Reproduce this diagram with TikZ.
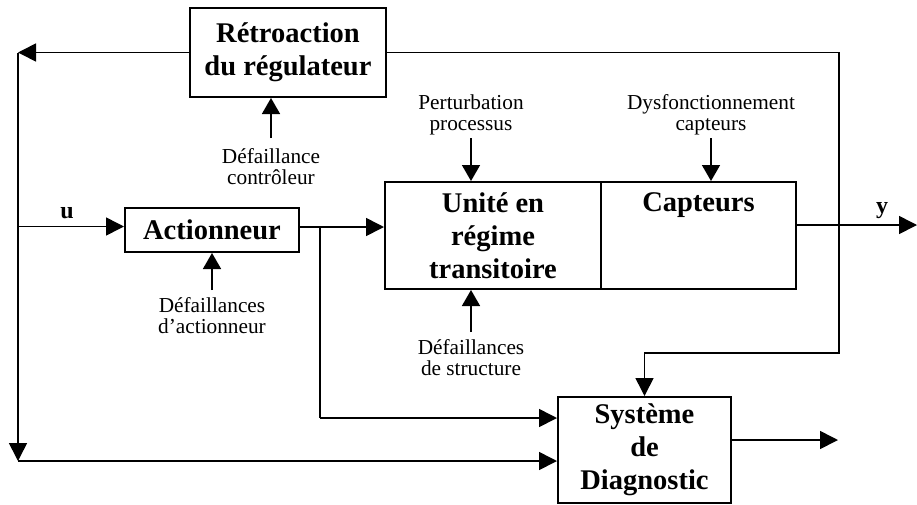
\documentclass[tikz,border=0pt]{standalone}
\usepackage{fontspec}
\setmainfont{Liberation Serif}
\usetikzlibrary{arrows.meta}

\begin{document}
\begin{tikzpicture}[x=1pt, y=-1pt]
    \useasboundingbox (0,0) rectangle (917,504);

    \begin{scope}[every node/.style={draw, line width=2pt, align=center, inner sep=0pt, font=\fontsize{28.5}{33}\selectfont\bfseries}]
        \node[minimum width=196pt, minimum height=89pt] (retro) at (288,52.5) {Rétroaction\\du régulateur};
        \node[minimum width=174pt, minimum height=44pt] (act) at (212,230) {Actionneur};
        \node[minimum width=216pt, minimum height=107pt] (unit) at (493,235.5) {Unité en\\régime\\transitoire};
        \node[minimum width=195pt, minimum height=107pt] (capt) at (698.5,235.5) {Capteurs\\~\\~};
        \node[minimum width=173pt, minimum height=106pt] (diag) at (644.5,450) {Système\\de\\Diagnostic};
    \end{scope}

    \begin{scope}[every node/.style={align=center, inner sep=3pt, font=\fontsize{21.3}{21}\selectfont}]
        \node[anchor=south] (pert) at (471,138) {Perturbation\\processus};
        \node[anchor=south] (dysf) at (711,138) {Dysfonctionnement\\capteurs};
        \node[anchor=north] (ctrl) at (271,145) {Défaillance\\contrôleur};
        \node[anchor=north] (actf) at (212,294) {Défaillances\\d’actionneur};
        \node[anchor=north] (strf) at (471,336) {Défaillances\\de structure};
    \end{scope}

    \begin{scope}[every node/.style={font=\fontsize{24}{24}\selectfont\bfseries}]
        \node (u) at (67,213) {u};
        \node (y) at (882,211) {y};
    \end{scope}

    % points de jonction
    \coordinate (tl) at (18,52.5);
    \coordinate (bl) at (18,461);
    \coordinate (ul) at (18,226.5);
    \coordinate (j1) at (320,227);
    \coordinate (j2) at (320,418);
    \coordinate (fr1) at (839,52.5);
    \coordinate (fr2) at (839,353);
    \coordinate (yout) at (917,225);
    \coordinate (dout) at (838,440);

    \begin{scope}[>={Triangle[length=18pt, width=18pt]}, line width=1.6pt]
        \draw [->] (retro.west) -- (tl);
        \draw [->] (tl) -- (bl);
        \draw [->] (bl) -- (diag.west |- bl);
        \draw [->] (ul) -- (act.west |- ul);
        \draw (act.east |- j1) -- (j1);
        \draw [->] (j1) -- (unit.west |- j1);
        \draw (j1) -- (j2);
        \draw [->] (j2) -- (diag.west |- j2);
        \draw [->] (retro.east) -- (fr1) -- (fr2) -- (diag.north |- fr2) -- (diag.north);
        \draw [->] (capt.east |- yout) -- (yout);
        \draw [->] (diag.east |- dout) -- (dout);
    \end{scope}

    \begin{scope}[>={Triangle[length=16pt, width=18pt]}, line width=1.6pt]
        \draw [->] (pert.south) -- (unit.north -| pert.south);
        \draw [->] (dysf.south) -- (capt.north -| dysf.south);
        \draw [->, shorten <=7pt] (ctrl.north) -- (retro.south -| ctrl.north);
        \draw [->, shorten <=4pt] (actf.north) -- (act.south);
        \draw [->, shorten <=4pt] (strf.north) -- (unit.south -| strf.north);
    \end{scope}
\end{tikzpicture}
\end{document}
